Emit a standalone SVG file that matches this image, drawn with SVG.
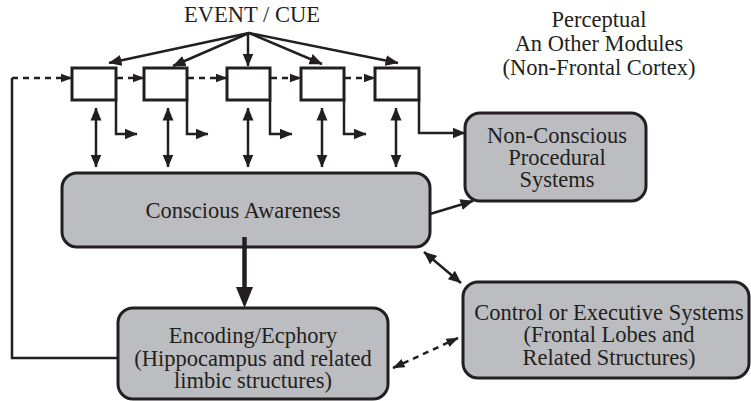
<svg xmlns="http://www.w3.org/2000/svg" width="751" height="401" viewBox="0 0 751 401">
  <style>
    .txt { font-family: "Liberation Serif", "Times New Roman", serif; font-size: 22.5px; fill: #231f20; text-anchor: middle; }
    .box { fill: #bcbdc0; stroke: #231f20; stroke-width: 3; }
    .mod { fill: #ffffff; stroke: #231f20; stroke-width: 3; }
    .ln { fill: none; stroke: #231f20; stroke-width: 2.5; }
    .dash { stroke-dasharray: 6 5; }
    .arr { marker-end: url(#head); }
    .arr-s { marker-end: url(#head-s); }
    .dbl { marker-start: url(#head); marker-end: url(#head); }
    .dbl-s { marker-start: url(#head-s); marker-end: url(#head-s); }
  </style>
  <defs>
    <!-- standard arrowhead -->
    <marker id="head" markerUnits="userSpaceOnUse" markerWidth="14" markerHeight="12" viewBox="0 0 14 12" refX="12.5" refY="6" orient="auto-start-reverse">
      <path d="M0,0.5 L13,6 L0,11.5 z" fill="#231f20"/>
    </marker>
    <!-- smaller head for the dashed links -->
    <marker id="head-s" markerUnits="userSpaceOnUse" markerWidth="13" markerHeight="10" viewBox="0 0 13 10" refX="11.5" refY="5" orient="auto-start-reverse">
      <path d="M0,0.5 L12,5 L0,9.5 z" fill="#231f20"/>
    </marker>
  </defs>

  <rect width="751" height="401" fill="#ffffff"/>

  <!-- labels without frames -->
  <g id="event-cue">
    <text class="txt" x="252" y="22">EVENT / CUE</text>
  </g>
  <g id="perceptual-label">
    <text class="txt" x="599" y="27">Perceptual</text>
    <text class="txt" x="599" y="51">An Other Modules</text>
    <text class="txt" x="599" y="75">(Non-Frontal Cortex)</text>
  </g>

  <!-- perceptual modules -->
  <g id="module-1"><rect class="mod" x="72" y="68" width="44" height="32"/></g>
  <g id="module-2"><rect class="mod" x="144" y="68" width="43" height="32"/></g>
  <g id="module-3"><rect class="mod" x="227" y="68" width="43" height="32"/></g>
  <g id="module-4"><rect class="mod" x="301" y="68" width="43" height="32"/></g>
  <g id="module-5"><rect class="mod" x="375" y="68" width="44" height="32"/></g>

  <!-- system nodes -->
  <g id="conscious-awareness">
    <rect class="box" x="62" y="173" width="368" height="74" rx="15"/>
    <text class="txt" x="243" y="218">Conscious Awareness</text>
  </g>
  <g id="encoding-ecphory">
    <rect class="box" x="118" y="308" width="270" height="91" rx="15"/>
    <text class="txt" x="253" y="343">Encoding/Ecphory</text>
    <text class="txt" x="253" y="365.5">(Hippocampus and related</text>
    <text class="txt" x="253" y="388">limbic structures)</text>
  </g>
  <g id="non-conscious">
    <rect class="box" x="465" y="113" width="181" height="88" rx="15"/>
    <text class="txt" x="557" y="143">Non-Conscious</text>
    <text class="txt" x="557" y="165">Procedural</text>
    <text class="txt" x="557" y="187">Systems</text>
  </g>
  <g id="control-executive">
    <rect class="box" x="463" y="282" width="286" height="96" rx="15"/>
    <text class="txt" x="609" y="320">Control or Executive Systems</text>
    <text class="txt" x="609" y="342">(Frontal Lobes and</text>
    <text class="txt" x="609" y="365">Related Structures)</text>
  </g>

  <g id="connectors">
    <!-- cue fan-out -->
    <line class="ln arr" x1="249" y1="33" x2="109" y2="63"/>
    <line class="ln arr" x1="249" y1="33" x2="173" y2="66"/>
    <line class="ln arr" x1="248" y1="33" x2="248" y2="66"/>
    <line class="ln arr" x1="249" y1="33" x2="322" y2="64"/>
    <line class="ln arr" x1="249" y1="33" x2="398" y2="63"/>

    <!-- dashed chain between modules -->
    <line class="ln dash arr-s" x1="12" y1="78" x2="72" y2="78"/>
    <line class="ln dash arr-s" x1="117" y1="78" x2="144" y2="78"/>
    <line class="ln dash arr-s" x1="188" y1="78" x2="227" y2="78"/>
    <line class="ln dash arr-s" x1="271" y1="78" x2="301" y2="78"/>
    <line class="ln dash arr-s" x1="345" y1="78" x2="375" y2="78"/>

    <!-- module outputs -->
    <path class="ln arr" d="M116,100 V134 H137"/>
    <path class="ln arr" d="M187,100 V134 H208"/>
    <path class="ln arr" d="M270,100 V134 H292"/>
    <path class="ln arr" d="M344,100 V134 H366"/>
    <path class="ln arr" d="M419,100 V133 H465"/>

    <!-- modules to awareness -->
    <line class="ln dbl" x1="96" y1="108" x2="96" y2="167"/>
    <line class="ln dbl" x1="168" y1="108" x2="168" y2="167"/>
    <line class="ln dbl" x1="248" y1="108" x2="248" y2="167"/>
    <line class="ln dbl" x1="322" y1="108" x2="322" y2="167"/>
    <line class="ln dbl" x1="396" y1="108" x2="396" y2="167"/>

    <!-- awareness to encoding, heavy -->
    <line x1="244.5" y1="237" x2="244.5" y2="290" stroke="#231f20" stroke-width="4.5"/>
    <polygon points="236,287 253,287 244.5,308" fill="#231f20"/>

    <!-- feedback from encoding to first module -->
    <path class="ln" d="M118,358 H12 V78"/>

    <!-- awareness to procedural -->
    <line class="ln arr" x1="430" y1="214" x2="473" y2="201"/>
    <!-- awareness and control -->
    <line class="ln dbl" x1="424" y1="252" x2="461" y2="283"/>
    <!-- encoding and control -->
    <line class="ln dash dbl-s" x1="393" y1="368" x2="458" y2="338"/>
  </g>
</svg>
